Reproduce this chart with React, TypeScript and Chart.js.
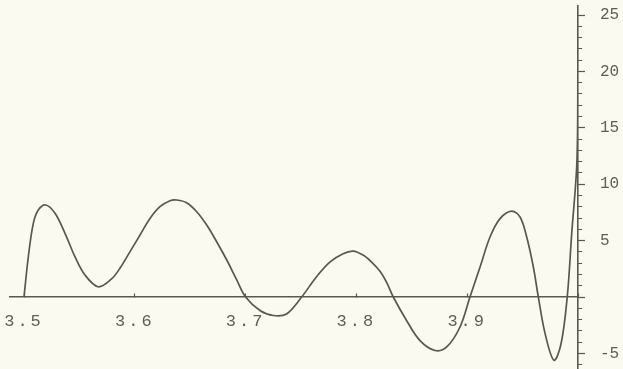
import React, { useEffect, useRef } from 'react';
import { Chart, registerables } from 'chart.js';

Chart.register(...registerables);

// Curve samples
const xValues = [
  3.5, 3.5039, 3.5084, 3.5129, 3.5196, 3.528, 3.537, 3.546, 3.555, 3.567,
  3.579, 3.5866, 3.5957, 3.6047, 3.6137, 3.6227, 3.6318, 3.6378, 3.6468, 3.6559,
  3.6649, 3.6739, 3.683, 3.692, 3.7, 3.713, 3.725, 3.737, 3.7506, 3.764,
  3.776, 3.788, 3.797, 3.806, 3.8135, 3.8213, 3.8275, 3.8333, 3.8454, 3.8574, 3.871, 3.8815,
  3.8935, 3.9025, 3.9116, 3.9206, 3.9296, 3.9401, 3.9477, 3.9537, 3.9597, 3.9642,
  3.9702, 3.9783, 3.9848, 3.9904, 3.9943, 3.9988, 3.9998, 4.0,
];
const yValues = [
  0, 3.57, 6.53, 7.71, 8.16, 7.42, 5.65, 3.57, 1.95, 0.91,
  1.6, 2.55, 4.02, 5.5, 6.97, 8.01, 8.54, 8.6, 8.36, 7.56,
  6.38, 4.9, 3.28, 1.51, 0, -1.2, -1.64, -1.5, 0, 1.8,
  3.1, 3.84, 4.07, 3.72, 3.12, 2.28, 1.25, 0, -2.1, -3.86, -4.74, -4.43,
  -2.66, 0, 2.66, 5.32, 6.95, 7.62, 7.09, 5.32, 2.66, 0,
  -3.2, -5.6, -4.1, 0.13, 5.6, 11.5, 17, 26,
];

const xTickLabels = [3.5, 3.6, 3.7, 3.8, 3.9];
const yTickLabels = [25, 20, 15, 10, 5, -5];

const X_MIN = 3.48736;
const X_MAX = 4.0;
const Y_MIN = -6.383;
const Y_MAX = 25.8;

const INK = '#58584f';
const TEXT = '#5e5e58';
const PAPER = '#fbfaf0';
const FONT = "'Liberation Mono', 'DejaVu Sans Mono', monospace";

function zeroPadding(s: any) {
  s.paddingLeft = 0;
  s.paddingRight = 0;
  s.paddingTop = 0;
  s.paddingBottom = 0;
}

export default function App() {
  const ref = useRef<HTMLCanvasElement>(null);

  useEffect(() => {
    document.body.style.margin = '0';
    document.body.style.background = PAPER;
    const canvas = ref.current;
    if (!canvas) return;

    const paperPlugin = {
      id: 'paper',
      beforeDraw(chart: any) {
        const { ctx, width, height } = chart;
        ctx.save();
        ctx.fillStyle = PAPER;
        ctx.fillRect(0, 0, width, height);
        ctx.restore();
      },
    };

    const spacingPlugin = {
      id: 'xLabelSpacing',
      afterLayout(chart: any) {
        const sx = chart.scales.x;
        if (!sx || sx.__patched) return;
        const orig = sx.drawLabels.bind(sx);
        sx.drawLabels = (area: any) => {
          const c = chart.ctx as any;
          c.save();
          c.letterSpacing = '3px';
          orig(area);
          c.restore();
        };
        sx.__patched = true;
      },
    };

    const chart = new Chart(canvas, {
      type: 'line',
      data: {
        datasets: [
          {
            data: xValues.map((x, i) => ({ x, y: yValues[i] })),
            borderColor: INK,
            borderWidth: 1.7,
            pointRadius: 0,
            tension: 0.35,
            fill: false,
            xAxisID: 'x',
            yAxisID: 'y',
          },
        ],
      },
      options: {
        animation: false,
        responsive: false,
        maintainAspectRatio: false,
        layout: { padding: { left: 10, top: 6, right: 0, bottom: 0 } },
        plugins: { legend: { display: false }, tooltip: { enabled: false } },
        scales: {
          x: {
            type: 'linear',
            axis: 'x',
            min: X_MIN,
            max: X_MAX,
            position: { y: 0 },
            afterFit: (s: any) => {
              s.height = 0;
              zeroPadding(s);
            },
            grid: { drawOnChartArea: false, drawTicks: true, tickLength: -4, color: INK, tickWidth: 1.2 },
            border: { display: true, color: INK, width: 1.5 },
            ticks: {
              stepSize: 0.1,
              includeBounds: false,
              autoSkip: false,
              maxRotation: 0,
              minRotation: 0,
              padding: 18,
              color: TEXT,
              font: { family: FONT, size: 17 },
              callback: (v: any) =>
                xTickLabels.some((t) => Math.abs(t - Number(v)) < 1e-6) ? Number(v).toFixed(1) : '',
            },
          },
          y: {
            type: 'linear',
            axis: 'y',
            position: 'right',
            min: Y_MIN,
            max: Y_MAX,
            afterFit: (s: any) => {
              s.width = 45;
              zeroPadding(s);
            },
            grid: { drawOnChartArea: false, drawTicks: true, tickLength: 7, color: INK, tickWidth: 1.2 },
            border: { display: true, color: INK, width: 1.6 },
            ticks: {
              stepSize: 5,
              includeBounds: false,
              padding: 15,
              color: TEXT,
              font: { family: FONT, size: 16 },
              callback: (v: any) => (yTickLabels.includes(Number(v)) ? String(v) : ''),
            },
          },
          yMinor: {
            type: 'linear',
            axis: 'y',
            position: 'right',
            weight: -1,
            min: Y_MIN,
            max: Y_MAX,
            afterFit: (s: any) => {
              s.width = 0;
              zeroPadding(s);
            },
            grid: { drawOnChartArea: false, drawTicks: true, tickLength: 4, color: INK, tickWidth: 1 },
            border: { display: false },
            ticks: { stepSize: 1, includeBounds: false, display: false },
          },
        },
      } as any,
      plugins: [paperPlugin, spacingPlugin],
    });

    return () => chart.destroy();
  }, []);

  return (
    <div style={{ width: 623, height: 369, background: PAPER }}>
      <canvas ref={ref} width={623} height={369} style={{ display: 'block' }} />
    </div>
  );
}
